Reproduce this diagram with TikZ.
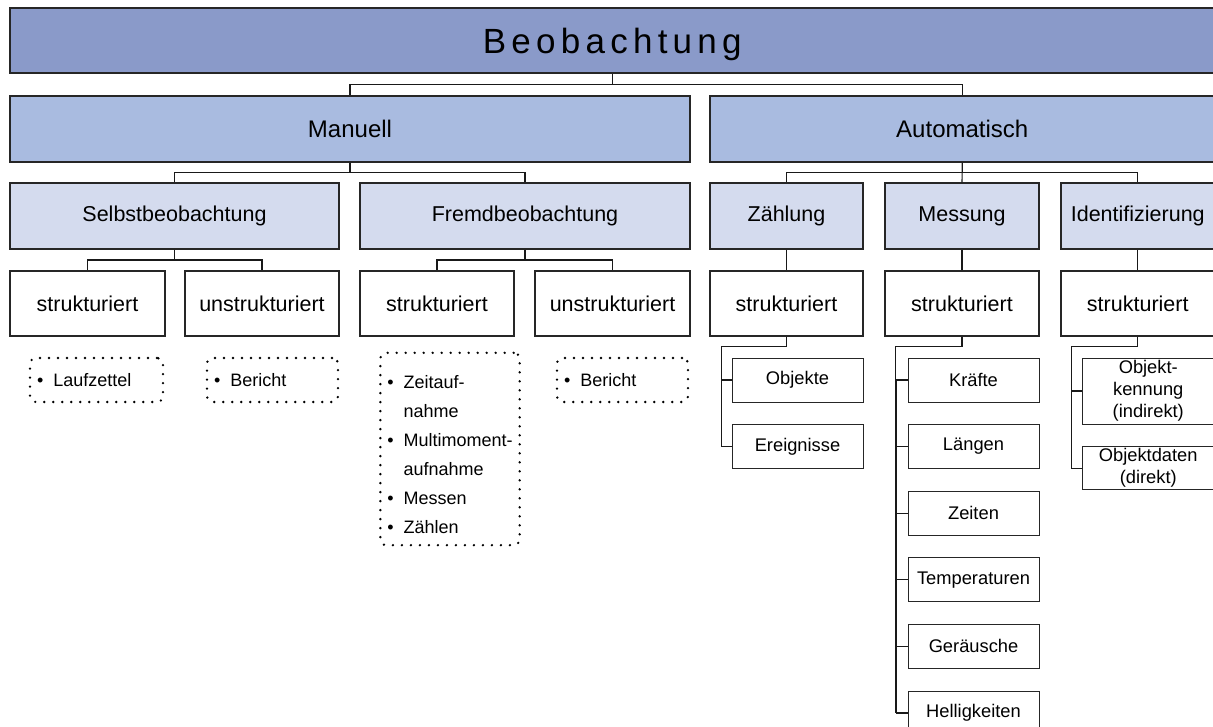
\documentclass[tikz,border=0pt]{standalone}
\usepackage{fontspec}
\setmainfont{Liberation Sans}
\usepackage{tikz}
\usetikzlibrary{positioning,calc}
\definecolor{beoTop}{HTML}{8A9AC9}
\definecolor{beoMid}{HTML}{A9BBE0}
\definecolor{beoLow}{HTML}{D4DBEE}
\tikzset{
box/.style={rectangle, draw=black!85, line width=1.1pt, inner sep=2pt, align=center}, % every framed box
lvl0/.style={box, fill=beoTop, minimum height=65pt, text depth=0pt, font=\fontsize{35}{40}\selectfont\addfontfeatures{LetterSpace=15}},
lvl1/.style={box, fill=beoMid, minimum height=66pt, font=\fontsize{24}{28}\selectfont},
lvl2/.style={box, fill=beoLow, minimum height=66pt, font=\fontsize{21.5}{25}\selectfont},
kind/.style={box, minimum height=65pt, font=\fontsize{21.5}{25}\selectfont},
leaf/.style={box, line width=1pt, minimum width=131pt, minimum height=44pt, font=\fontsize{18.3}{22}\selectfont},
listbox/.style={draw=black, rounded corners=6pt, line width=2.6pt, dash pattern=on 0pt off 9pt, line cap=round, inner xsep=7pt, minimum height=44pt, align=left, font=\fontsize{18}{29}\selectfont},
fork/.style={to path={(\tikztostart) |- ($(\tikztostart)!0.5!(\tikztotarget)$) -| (\tikztotarget)}}, % elbow connector
link/.style={draw=black!90, line width=1.1pt},
}
\begin{document}
\begin{tikzpicture}[x=1pt, y=-1pt]
\useasboundingbox (0,0) rectangle (1213,727);

% levels
\node[lvl0, minimum width=1204.5pt] (beo) at (612.25,40.5) {Beobachtung};
\node[lvl1, minimum width=680pt] (man) at (350,129) {Manuell};
\node[lvl1, minimum width=504.5pt] (aut) at (962.25,129) {Automatisch};

\node[lvl2, minimum width=329pt] (selbst) at (174.5,216) {Selbstbeobachtung};
\node[lvl2, minimum width=330pt] (fremd) at (525,216) {Fremdbeobachtung};
\node[lvl2, minimum width=153pt] (zaehl) at (786.5,216) {Zählung};
\node[lvl2, minimum width=154pt] (mess) at (962,216) {Messung};
\node[lvl2, minimum width=153.5pt] (ident) at (1137.75,216) {Identifizierung};

\node[kind, minimum width=155pt] (s1) at (87.5,303.5) {strukturiert};
\node[kind, minimum width=154pt] (u1) at (262,303.5) {unstrukturiert};
\node[kind, minimum width=154pt] (s2) at (437,303.5) {strukturiert};
\node[kind, minimum width=155pt] (u2) at (612.5,303.5) {unstrukturiert};
\node[kind, minimum width=153pt] (zs) at (786.5,303.5) {strukturiert};
\node[kind, minimum width=154pt] (ms) at (962,303.5) {strukturiert};
\node[kind, minimum width=153.5pt] (is) at (1137.75,303.5) {strukturiert};

% dotted lists
\node[listbox, text width=119pt] (lauf) at (96.5,380) {\textbullet\hspace{10pt}Laufzettel};
\node[listbox, text width=117pt] (ber1) at (272.5,380) {\textbullet\hspace{10pt}Bericht};
\node[listbox, minimum width=136pt, minimum height=182pt] (liste) at (450,449) {%
\begin{tabular}{@{}l@{\hspace{10pt}}l@{}}
\rule{0pt}{32pt}\textbullet & Zeitauf-\\
 & nahme\\
\textbullet & Multimoment-\\
 & aufnahme\\
\textbullet & Messen\\
\textbullet & Zählen
\end{tabular}};
\node[listbox, text width=117pt] (ber2) at (622.5,380) {\textbullet\hspace{10pt}Bericht};

% leaves
\node[leaf] (obj) at (797.5,380) {Objekte};
\node[leaf, below=21.6pt of obj] (ereig) {Ereignisse};

\node[leaf] (kraft) at (973.5,380) {Kräfte};
\node[leaf, below=21.6pt of kraft] (laeng) {Längen};
\node[leaf, below=21.6pt of laeng] (zeit) {Zeiten};
\node[leaf, below=21.6pt of zeit] (temp) {Temperaturen};
\node[leaf, below=21.6pt of temp] (geraeusch) {Geräusche};
\node[leaf, below=21.6pt of geraeusch] (hell) {Helligkeiten};

\node[leaf, minimum width=132.5pt, minimum height=66pt] (okenn) at (1148.25,391) {Objekt-\\kennung\\(indirekt)};
\node[leaf, minimum width=132.5pt, minimum height=43pt, below=21.6pt of okenn] (odat) {Objektdaten\\(direkt)};

% connectors
\draw[link] (beo.south) edge[fork] (man.north) edge[fork] (aut.north);
\draw[link] (man.south) edge[fork] (selbst.north) edge[fork] (fremd.north);
\draw[link] (aut.south) edge[fork] (zaehl.north) edge[fork] (ident.north)
  (aut.south) -- (mess.north);
\draw[link] (selbst.south) edge[fork] (s1.north) edge[fork] (u1.north);
\draw[link] (fremd.south) edge[fork] (s2.north) edge[fork] (u2.north);
\draw[link] (zaehl) -- (zs) (mess) -- (ms) (ident) -- (is);

\draw[link] (zs.south) -- ++(0,10) -| ([xshift=-10pt]obj.west) -- (obj.west);
\draw[link] ([xshift=-10pt]obj.west) |- (ereig.west);

\draw[link] (ms.south) -- ++(0,10) -| ([xshift=-12pt]kraft.west);
\draw[link, line width=2pt] ([xshift=-12pt]kraft.west) -- ([xshift=-12pt]hell.west);
\foreach \n in {kraft,laeng,zeit,temp,geraeusch,hell}
  \draw[link] ([xshift=-12pt]\n.west) -- (\n.west);

\draw[link] (is.south) -- ++(0,10) -| ([xshift=-10pt]okenn.west) -- (okenn.west);
\draw[link] ([xshift=-10pt]okenn.west) |- (odat.west);
\end{tikzpicture}
\end{document}
